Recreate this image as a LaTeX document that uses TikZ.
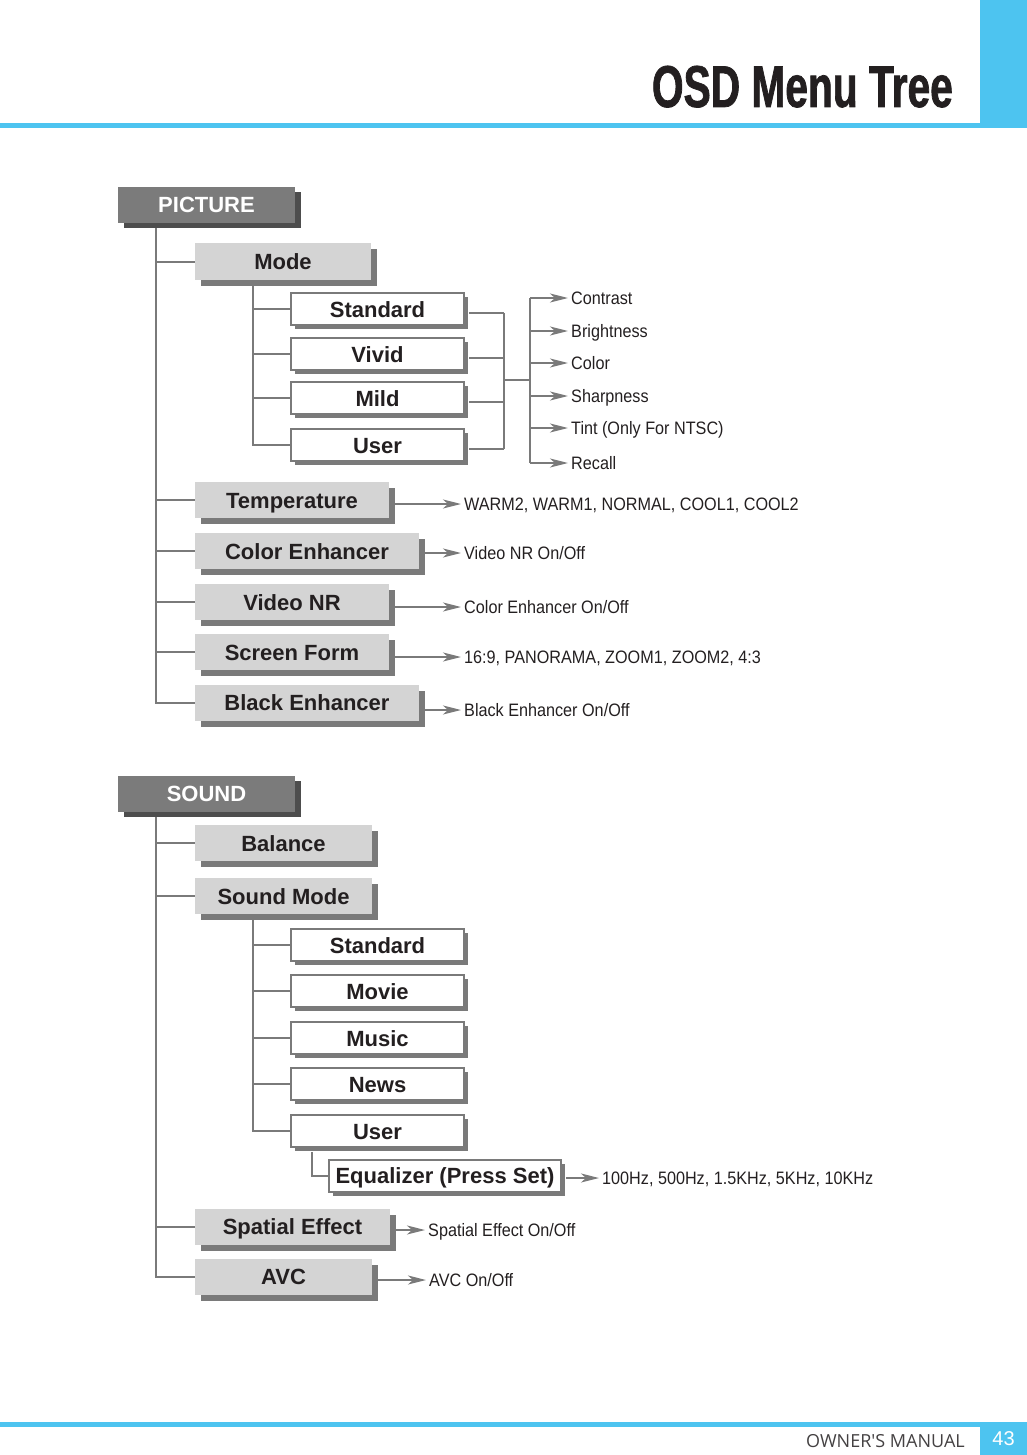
\documentclass[tikz,border=0pt]{standalone}
\usepackage{fontspec}
\usepackage{xcolor}
\usetikzlibrary{arrows.meta, shadows, calc}
\setmainfont{Liberation Sans}
\newfontfamily\titlefont[FakeStretch=0.69, FakeBold=1.2]{Liberation Sans}
\newfontfamily\notefont[FakeStretch=0.9]{Liberation Sans}
\newfontfamily\footfont{Open Sans}
\definecolor{skyblue}{HTML}{4DC4F0}
\definecolor{linegray}{HTML}{7A7A7A}
\definecolor{menugray}{HTML}{D4D4D4}
\definecolor{headgray}{HTML}{7B7B7B}
\definecolor{headshadow}{HTML}{4D4D4D}
\definecolor{ink}{HTML}{231F20}
\newcommand{\boxfont}{\fontsize{22}{22}\selectfont\bfseries}

\tikzset{
  link/.style={draw=linegray, line width=2pt},
  arr/.style={link, -{Stealth[length=18pt, width=9pt, inset=5pt]}},
  head/.style={fill=headgray, text=white, font=\boxfont, minimum width=177pt,
    minimum height=36pt, inner sep=0pt, text height=16pt, text depth=0pt,
    general shadow={fill=headshadow, shadow xshift=6pt, shadow yshift=-5pt}},
  menu/.style={fill=menugray, text=ink, font=\boxfont, minimum height=36pt,
    inner sep=0pt, text height=16pt, text depth=0pt,
    general shadow={fill=linegray, shadow xshift=6pt, shadow yshift=-6pt}},
  item/.style={draw=linegray, line width=2pt, fill=white, text=ink, font=\boxfont,
    minimum width=173pt, minimum height=32pt, inner sep=0pt, text height=16pt, text depth=0pt,
    general shadow={fill=linegray, shadow xshift=4pt, shadow yshift=-4pt}},
  note/.style={anchor=west, inner sep=3pt, text=ink, font=\notefont\fontsize{18}{18}\selectfont,
    text height=13pt, text depth=0pt}
}

\begin{document}
\begin{tikzpicture}[x=1pt, y=-1pt]
\useasboundingbox (0,0) rectangle (1027,1455);
\fill[skyblue] (0,123) rectangle (1027,128);
\fill[skyblue] (980,0) rectangle (1027,128);
\fill[skyblue] (0,1422) rectangle (1027,1427);
\fill[skyblue] (980,1422) rectangle (1027,1455);
\node[anchor=base east, inner sep=0pt, text=ink, font=\titlefont\bfseries\fontsize{59}{59}\selectfont] (title) at (953,107) {OSD Menu Tree};
\node[anchor=base east, inner sep=0pt, text=ink!85, font=\footfont\fontsize{18}{18}\selectfont] (manual) at (965,1447) {OWNER'S MANUAL};
\node[text=white, font=\fontsize{20}{20}\selectfont] (pageno) at (1003.5,1439) {43};

% picture
\node[head] (picture) at (206.5,205) {PICTURE};
\node[menu, minimum width=176pt] (mode) at (283,261.5) {Mode};
\node[item] (pstd) at (377.5,309) {Standard};
\node[item] (pvivid) at (377.5,354) {Vivid};
\node[item] (pmild) at (377.5,398) {Mild};
\node[item] (puser) at (377.5,445) {User};
\node[menu, minimum width=194pt] (temp) at (292,500) {Temperature};
\node[menu, minimum width=224pt] (colorenh) at (307,551) {Color Enhancer};
\node[menu, minimum width=194pt] (videonr) at (292,602) {Video NR};
\node[menu, minimum width=194pt] (screen) at (292,652) {Screen Form};
\node[menu, minimum width=224pt] (blackenh) at (307,702.5) {Black Enhancer};

\node[note] (contrast) at (568,298) {Contrast};
\node[note] (bright) at (568,331) {Brightness};
\node[note] (color) at (568,363) {Color};
\node[note] (sharp) at (568,396) {Sharpness};
\node[note] (tint) at (568,428) {Tint (Only For NTSC)};
\node[note] (recall) at (568,463) {Recall};
\node[note] (tempval) at (461,504) {WARM2, WARM1, NORMAL, COOL1, COOL2};
\node[note] (colorval) at (461,553) {Video NR On/Off};
\node[note] (nrval) at (461,607) {Color Enhancer On/Off};
\node[note] (screenval) at (461,657) {16:9, PANORAMA, ZOOM1, ZOOM2, 4:3};
\node[note] (blackval) at (461,710) {Black Enhancer On/Off};

\coordinate (pictrunk) at (156,228);
\draw[link] (pictrunk) |- (blackenh.west);
\foreach \n in {mode,temp,colorenh,videonr,screen}
  \draw[link] (pictrunk |- \n.west) -- (\n.west);
\coordinate (modetrunk) at (253,286);
\draw[link] (modetrunk) |- (puser.west);
\foreach \n in {pstd,pvivid,pmild}
  \draw[link] (modetrunk |- \n.west) -- (\n.west);

\coordinate (pjoin) at (504,380);
\coordinate (pfan) at (530,380);
\foreach \n in {pstd,pvivid,pmild,puser}
  \draw[link] ($(\n.east)+(4,4)$) -- ($(pjoin |- \n.east)+(0,4)$);
\draw[link] ($(pjoin |- pstd.east)+(0,4)$) -- ($(pjoin |- puser.east)+(0,4)$);
\draw[link] (pjoin) -- (pfan);
\draw[link] (pfan |- contrast.west) -- (pfan |- recall.west);
\foreach \n in {contrast,bright,color,sharp,tint,recall}
  \draw[arr] (pfan |- \n.west) -- (\n.west);
\foreach \m/\v in {temp/tempval,colorenh/colorval,videonr/nrval,screen/screenval,blackenh/blackval}
  \draw[arr] ($(\m.east |- \v.west)+(6,0)$) -- (\v.west);

% sound
\node[head] (sound) at (206.5,793.5) {SOUND};
\node[menu, minimum width=177pt] (balance) at (283.5,843) {Balance};
\node[menu, minimum width=177pt] (soundmode) at (283.5,896) {Sound Mode};
\node[item] (sstd) at (377.5,945) {Standard};
\node[item] (smovie) at (377.5,991) {Movie};
\node[item] (smusic) at (377.5,1038) {Music};
\node[item] (snews) at (377.5,1084) {News};
\node[item] (suser) at (377.5,1131) {User};
\node[item, minimum width=232pt] (eq) at (445,1175.5) {Equalizer (Press Set)};
\node[menu, minimum width=195pt] (spatial) at (292.5,1226.5) {Spatial Effect};
\node[menu, minimum width=177pt] (avc) at (283.5,1276.5) {AVC};

\node[note] (eqval) at (599,1178) {100Hz, 500Hz, 1.5KHz, 5KHz, 10KHz};
\node[note] (spatialval) at (425,1230) {Spatial Effect On/Off};
\node[note] (avcval) at (426,1280) {AVC On/Off};

\coordinate (soundtrunk) at (156,817);
\draw[link] (soundtrunk) |- (avc.west);
\foreach \n in {balance,soundmode,spatial}
  \draw[link] (soundtrunk |- \n.west) -- (\n.west);
\coordinate (smtrunk) at (253,920);
\draw[link] (smtrunk) |- (suser.west);
\foreach \n in {sstd,smovie,smusic,snews}
  \draw[link] (smtrunk |- \n.west) -- (\n.west);
\coordinate (eqtrunk) at (312,1152);
\draw[link] (eqtrunk) |- (eq.west);
\draw[arr] ($(eq.east |- eqval.west)+(4,0)$) -- (eqval.west);
\draw[arr] ($(spatial.east |- spatialval.west)+(6,0)$) -- (spatialval.west);
\draw[arr] ($(avc.east |- avcval.west)+(6,0)$) -- (avcval.west);
\end{tikzpicture}
\end{document}
